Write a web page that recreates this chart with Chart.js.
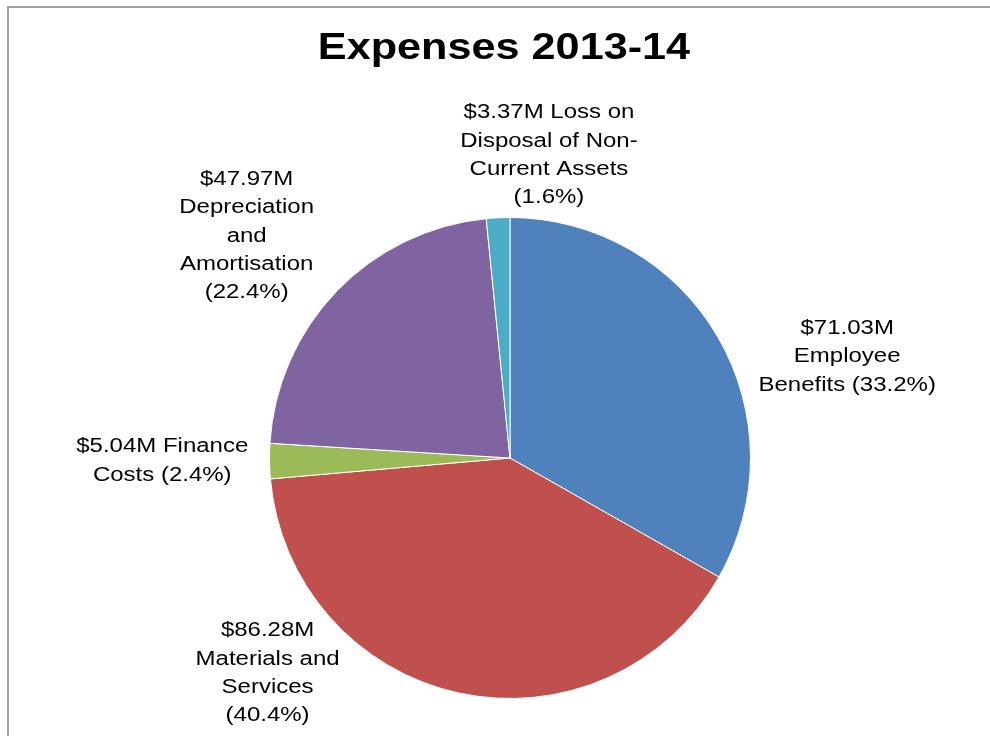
<!DOCTYPE html>
<html>
<head>
<meta charset="utf-8">
<script src="https://cdn.jsdelivr.net/npm/chart.js@4/dist/chart.umd.min.js"></script>
<style>
  html, body { margin: 0; padding: 0; background: #fff; }
  #wrap { width: 990px; height: 736px; }
</style>
</head>
<body>
<div id="wrap"><canvas id="chart" width="990" height="736"></canvas></div>
<script>
// data (millions of dollars)
const categories = [
  'Employee Benefits',
  'Materials and Services',
  'Finance Costs',
  'Depreciation and Amortisation',
  'Loss on Disposal of Non-Current Assets'
];
const expenses = [71.03, 86.28, 5.04, 47.97, 3.37];
// label wrapping as in the original ({v} = value, {p} = percent)
const labelTemplates = [
  '{v}\nEmployee\nBenefits ({p})',
  '{v}\nMaterials and\nServices\n({p})',
  '{v} Finance\nCosts ({p})',
  '{v}\nDepreciation\nand\nAmortisation\n({p})',
  '{v} Loss on\nDisposal of Non-\nCurrent Assets\n({p})'
];
const sliceColors = ['#4F81BD', '#C0504D', '#9BBB59', '#8064A2', '#4BACC6'];
const chartTitle = 'Expenses 2013-14';

// label box centres, in pie-radius units from the pie centre
const labelOffsets = [
  [1.402, -0.427],
  [-1.008, 0.888],
  [-1.446, 0.006],
  [-1.095, -0.929],
  [0.162, -1.266]
];

const total = expenses.reduce((a, b) => a + b, 0);
const STRETCH = 1.2; // the original text is rendered a bit wide

function drawText(ctx, text, x, y) {
  ctx.save();
  ctx.translate(x, y);
  ctx.scale(STRETCH, 1);
  ctx.fillText(text, 0, 0);
  ctx.restore();
}

const framePlugin = {
  id: 'frame',
  beforeDraw(chart) {
    const ctx = chart.ctx;
    ctx.save();
    ctx.fillStyle = '#fff';
    ctx.fillRect(0, 0, chart.width, chart.height);
    ctx.strokeStyle = '#a0a0a0';
    ctx.lineWidth = 2;
    ctx.strokeRect(8, 7, 1100, 1000);
    // title
    ctx.fillStyle = '#000';
    ctx.textAlign = 'center';
    ctx.textBaseline = 'alphabetic';
    ctx.font = 'bold 36px "Liberation Sans", Arial, sans-serif';
    drawText(ctx, chartTitle, 504, 59);
    ctx.restore();
  }
};

const labelPlugin = {
  id: 'sliceLabels',
  afterDatasetsDraw(chart) {
    const ctx = chart.ctx;
    const meta = chart.getDatasetMeta(0);
    ctx.save();
    ctx.fillStyle = '#000';
    ctx.textAlign = 'center';
    ctx.textBaseline = 'alphabetic';
    const size = 20;
    const lineH = 28.3;
    ctx.font = size + 'px "Liberation Sans", Arial, sans-serif';
    meta.data.forEach((arc, i) => {
      const r = arc.outerRadius;
      const cx = arc.x + labelOffsets[i][0] * r;
      const cy = arc.y + labelOffsets[i][1] * r;
      const pct = (expenses[i] / total * 100).toFixed(1) + '%';
      const text = labelTemplates[i]
        .replace('{v}', '$' + expenses[i].toFixed(2) + 'M')
        .replace('{p}', pct);
      const lines = text.split('\n');
      const top = cy - (lines.length - 1) * lineH / 2;
      lines.forEach((ln, k) => {
        drawText(ctx, ln, cx, top + k * lineH + 0.358 * size);
      });
    });
    ctx.restore();
  }
};

new Chart(document.getElementById('chart'), {
  type: 'pie',
  data: {
    labels: categories,
    datasets: [{
      data: expenses,
      backgroundColor: sliceColors,
      borderColor: '#ffffff',
      borderWidth: 1,
      hoverOffset: 0
    }]
  },
  options: {
    responsive: false,
    animation: false,
    devicePixelRatio: 1,
    layout: {
      padding: { top: 217, bottom: 37, left: 269, right: 239 }
    },
    plugins: {
      legend: { display: false },
      title: { display: false },
      tooltip: { enabled: false }
    }
  },
  plugins: [framePlugin, labelPlugin]
});
</script>
</body>
</html>
